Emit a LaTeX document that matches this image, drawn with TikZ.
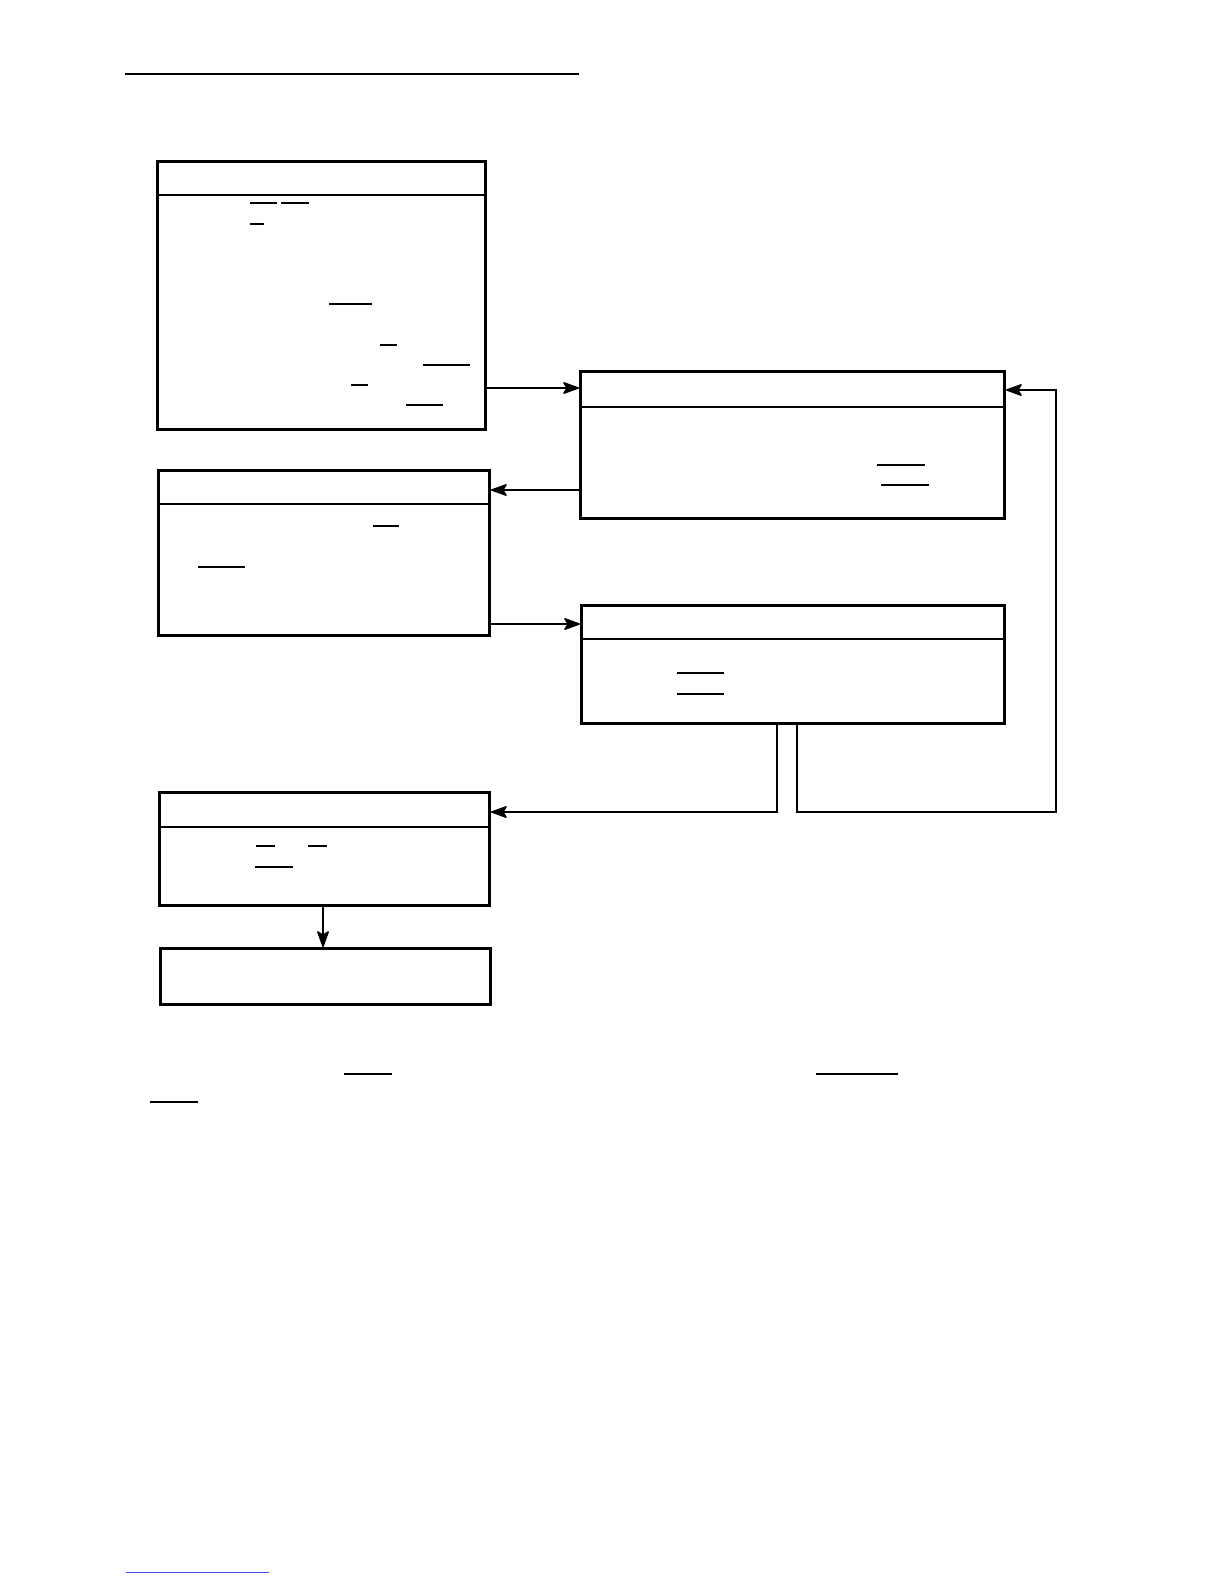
\documentclass[tikz,border=0pt]{standalone}
\usetikzlibrary{arrows.meta}
\begin{document}
\begin{tikzpicture}[x=1pt,y=-1pt,
  box/.style={draw, line width=3pt, rectangle, inner sep=0pt, anchor=north west},
  divider/.style={line width=1.4pt},
  uline/.style={line width=1.4pt},
  bline/.style={line width=2.4pt},
  conn/.style={line width=1.4pt, -{Stealth[length=18pt,width=13pt,inset=4pt,round]}},
  plain/.style={line width=1.4pt}]
\useasboundingbox (0,0) rectangle (1224,1584);
% top rule
\draw[bline] (125,74) -- (579,74);
% boxes
\node[box, minimum width=328pt, minimum height=268pt] (b1) at (156,160) {};
\node[box, minimum width=424pt, minimum height=147pt] (b2) at (579,370) {};
\node[box, minimum width=331pt, minimum height=165pt] (b3) at (157,469) {};
\node[box, minimum width=423pt, minimum height=118pt] (b4) at (580,604) {};
\node[box, minimum width=330pt, minimum height=113pt] (b5) at (158,791) {};
\node[box, minimum width=330pt, minimum height=56pt] (b6) at (159,947) {};
% dividers
\draw[divider] (b1.west |- 0,195) -- (b1.east |- 0,195);
\draw[divider] (b2.west |- 0,407) -- (b2.east |- 0,407);
\draw[divider] (b3.west |- 0,504) -- (b3.east |- 0,504);
\draw[divider] (b4.west |- 0,639) -- (b4.east |- 0,639);
\draw[divider] (b5.west |- 0,827) -- (b5.east |- 0,827);
% underlines box 1
\draw[uline] (250,203) -- (277,203);
\draw[uline] (281,203) -- (309,203);
\draw[uline] (250,224) -- (264,224);
\draw[uline] (329,304) -- (372,304);
\draw[uline] (380,345) -- (397,345);
\draw[uline] (423,365) -- (470,365);
\draw[uline] (351,385) -- (368,385);
\draw[uline] (406,405) -- (443,405);
% underlines box 2
\draw[uline] (877,465) -- (925,465);
\draw[uline] (881,485) -- (929,485);
% underlines box 3
\draw[uline] (373,526) -- (399,526);
\draw[uline] (198,567) -- (245,567);
% underlines box 4
\draw[uline] (677,673) -- (724,673);
\draw[uline] (677,694) -- (724,694);
% underlines box 5
\draw[uline] (256,846) -- (275,846);
\draw[uline] (308,846) -- (327,846);
\draw[uline] (255,867) -- (293,867);
% bottom underlines
\draw[bline] (344,1074) -- (392,1074);
\draw[bline] (816,1074) -- (898,1074);
\draw[bline] (150,1102) -- (198,1102);
% connectors
\draw[conn] (b1.east |- 0,388) -- (b2.west |- 0,388);
\draw[conn] (b2.west |- 0,490) -- (b3.east |- 0,490);
\draw[conn] (b3.east |- 0,624) -- (b4.west |- 0,624);
\coordinate (c1) at (777,812);
\coordinate (c2) at (797,812);
\coordinate (c3) at (1056,812);
\coordinate (c4) at (1056,390);
\draw[conn] (b4.south -| c1) -- (c1) -- (b5.east |- c1);
\draw[conn] (b4.south -| c2) -- (c2) -- (c3) -- (c4) -- (b2.east |- c4);
\draw[conn] (b5.south -| 323,0) -- (b6.north -| 323,0);
% faint link rule
\draw[line width=1pt, blue!70] (126,1572) -- (269,1572);
\end{tikzpicture}
\end{document}
